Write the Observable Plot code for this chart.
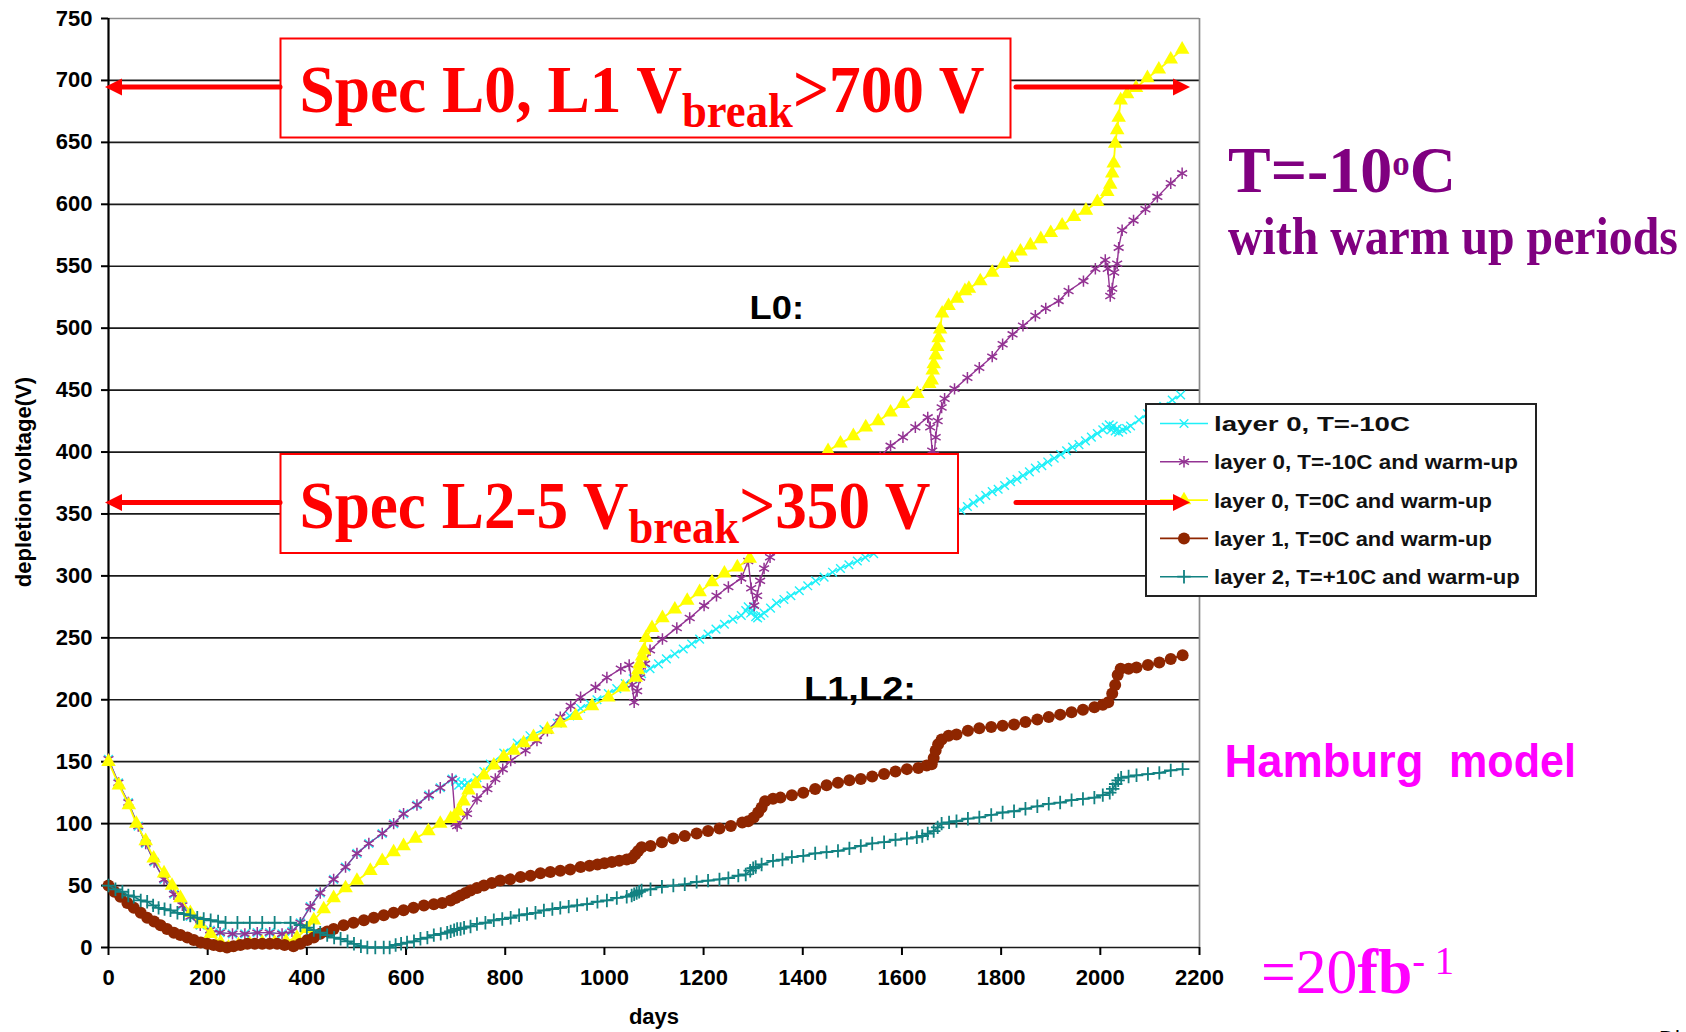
<!DOCTYPE html>
<html><head><meta charset="utf-8">
<script src="https://cdn.jsdelivr.net/npm/d3@7"></script>
<script src="https://cdn.jsdelivr.net/npm/@observablehq/plot@0.6"></script>
<style>
html,body{margin:0;padding:0;background:#fff;}
#chart{width:1686px;height:1032px;overflow:hidden;position:relative;background:#fff;}
</style>
</head><body><div id="chart"></div>
<script>
// ---------- tick values ----------
const xTicks = [0,200,400,600,800,1000,1200,1400,1600,1800,2000,2200];
const yTicks = [0,50,100,150,200,250,300,350,400,450,500,550,600,650,700,750];

// ---------- legend labels ----------
const legendLabels = [
  "layer 0, T=-10C",
  "layer 0, T=-10C and warm-up",
  "layer 0, T=0C and warm-up",
  "layer 1, T=0C and warm-up",
  "layer 2, T=+10C and warm-up"
];

// ---------- series: [days, depletion voltage (V)] ----------
const layer0_m10 = [[0,152],[20,133],[40,117],[60,98],[75,84],[92,69],[112,55],[132,43],[149,34],[165,25],[185,18],[205,14],[225,12],[250,11],[275,11],[300,12],[325,12],[350,11],[370,13],[387,20],[407,33],[427,44],[454,55],[478,65],[501,76],[525,84],[552,92],[575,100],[595,108],[622,115],[646,123],[669,129],[693,136],
 [700,134],[706,131],[712,133],[718,131],[724,133],[743,137],[757,142],[770,148],[797,157],[824,165],[850,171],[878,176],[905,181],[930,187],[952,193],[970,197],[985,200],[1008,205],[1025,209],[1042,213],[1058,217],[1075,221],[1092,225],[1109,229],[1125,233],[1142,237],[1159,241],[1176,245],[1192,249],[1209,253],[1225,257],[1242,261],[1259,265],[1276,268],[1285,272],[1290,275],[1295,270],[1300,272],[1305,267],[1309,266],[1315,268],[1322,270],[1335,274],[1347,278],[1362,281],[1376,284],[1393,288],[1410,292],[1426,296],[1443,299],[1460,303],[1476,306],[1493,309],[1510,312],[1526,315],[1543,318],[1560,322],[1580,326],[1600,330],[1620,334],[1640,338],[1655,341],[1660,344],[1665,340],[1670,343],[1690,347],[1705,350],[1719,353],[1732,356],[1744,359],[1757,362],[1769,365],[1782,368],[1794,370],[1807,373],[1819,376],[1832,378],[1844,381],[1857,384],[1869,387],[1882,389],[1894,392],[1907,395],[1920,398],[1932,401],[1944,404],[1957,406],[1970,409],[1982,412],[1994,415],[2005,418],[2012,420],[2018,422],[2022,418],[2026,421],[2030,417],[2034,419],[2037,416],[2045,418],[2053,419],[2061,421],[2078,426],[2095,431],[2112,434],[2128,437],[2145,442],[2162,446]];

const layer0_m10_warm = [[0,152],[20,133],[40,117],[60,98],[75,84],[92,69],[112,55],[132,43],[149,34],[165,25],[185,18],[205,14],[225,12],[250,11],[275,11],[300,12],[325,12],[350,11],[370,13],[387,20],[407,33],[427,44],[454,55],[478,65],[501,76],[525,84],[552,92],[575,100],[595,108],[622,115],[646,123],[669,129],[693,136],
 [700,100],[703,98],[723,108],[743,120],[764,128],[780,136],[795,144],[811,151],[841,159],[864,167],[885,175],[911,186],[932,195],[952,202],[982,210],[1005,218],[1033,225],[1050,228],[1056,212],[1060,198],[1066,207],[1072,218],[1082,229],[1092,240],[1117,249],[1146,258],[1172,266],[1201,276],[1226,284],[1250,291],[1276,298],[1290,312],[1296,290],[1302,276],[1308,284],[1314,296],[1322,306],[1334,315],[1360,325],[1385,333],[1410,342],[1435,350],[1460,360],[1485,369],[1510,378],[1535,387],[1556,396],[1577,405],[1602,412],[1627,420],[1652,428],[1657,420],[1661,401],[1665,398],[1668,412],[1672,425],[1680,436],[1686,443],[1706,451],[1732,460],[1756,468],[1782,477],[1803,487],[1823,495],[1844,502],[1869,510],[1890,516],[1916,522],[1936,530],[1966,538],[1990,548],[2010,555],[2015,548],[2020,526],[2024,532],[2028,545],[2034,552],[2037,565],[2044,579],[2067,587],[2091,596],[2115,606],[2142,617],[2165,625]];

const layer0_0_warm = [[0,150],[21,131],[41,115],[56,100],[75,86],[91,72],[112,60],[128,50],[145,40],[165,28],[185,19],[206,11],[226,4],[242,0],[262,2],[285,3],[310,4],[335,4],[358,5],[380,8],[400,15],[414,22],[434,31],[454,40],[478,48],[501,54],[528,62],[552,70],[575,77],[595,82],[619,88],[645,94],[669,100],[690,104],[698,106],[706,110],[716,118],[726,127],[740,132],[757,139],[777,147],[797,154],[817,159],[837,165],[857,170],[885,176],[911,181],[942,187],[975,195],[1008,202],[1038,210],[1063,218],[1068,224],[1071,229],[1076,235],[1080,240],[1084,250],[1096,258],[1117,266],[1142,273],[1167,280],[1192,287],[1217,295],[1242,302],[1268,307],[1293,314],[1300,325],[1308,338],[1330,350],[1360,363],[1390,376],[1420,389],[1451,401],[1476,407],[1502,413],[1527,420],[1552,425],[1577,432],[1602,439],[1631,447],[1655,455],[1660,458],[1662,466],[1664,471],[1668,478],[1671,485],[1674,492],[1677,499],[1681,512],[1694,518],[1711,524],[1727,530],[1735,532],[1758,538],[1782,545],[1805,552],[1822,557],[1839,562],[1859,567],[1880,572],[1900,577],[1923,583],[1947,590],[1971,595],[1994,602],[2014,610],[2020,616],[2024,625],[2027,633],[2030,649],[2034,660],[2037,670],[2041,684],[2054,689],[2072,694],[2095,702],[2118,709],[2142,717],[2165,725]];

const layer1_0_warm = [[0,50],[12,45],[24,41],[38,36],[51,32],[65,28],[78,24],[92,21],[105,18],[118,15],[132,12],[145,10],[159,8],[172,6],[186,4],[199,3],[212,2],[225,1],[239,0],[252,1],[266,2],[280,3],[295,3],[310,3],[325,3],[340,3],[355,2],[373,1],[387,3],[401,6],[414,8],[427,11],[441,13],[454,15],[474,18],[494,20],[515,22],[535,24],[555,26],[575,28],[595,30],[615,32],[636,34],[656,35],[673,36],[690,38],[700,40],[710,42],[720,44],[730,46],[743,48],[757,50],[773,52],[790,54],[810,55],[831,57],[851,58],[871,60],[891,61],[911,62],[931,63],[952,65],[970,66],[986,67],[1000,68],[1015,69],[1030,70],[1045,71],[1055,72],[1062,75],[1068,78],[1075,81],[1093,82],[1116,85],[1139,88],[1162,90],[1186,92],[1209,94],[1232,96],[1255,98],[1278,101],[1290,102],[1301,105],[1310,109],[1317,113],[1324,118],[1340,120],[1355,121],[1378,123],[1401,125],[1425,128],[1448,131],[1471,133],[1494,135],[1517,136],[1540,138],[1564,140],[1587,142],[1610,144],[1633,145],[1650,147],[1660,148],[1664,153],[1668,159],[1673,164],[1680,168],[1694,171],[1710,172],[1733,175],[1756,177],[1780,178],[1803,179],[1826,180],[1849,182],[1873,184],[1896,186],[1919,188],[1942,190],[1965,192],[1988,194],[2005,196],[2016,198],[2024,205],[2030,212],[2035,220],[2041,225],[2057,225],[2073,226],[2096,228],[2119,230],[2142,233],[2166,236]];

const layer2_p10_warm = [[0,50],[14,47],[28,45],[40,42],[51,41],[65,38],[78,37],[90,34],[101,32],[113,31],[125,30],[139,28],[152,27],[165,26],[179,24],[192,23],[206,22],[221,21],[236,20],[260,20],[285,20],[310,20],[335,20],[367,20],[387,18],[400,16],[414,14],[427,12],[441,10],[455,8],[468,7],[482,5],[495,3],[509,1],[522,0],[538,0],[555,0],[567,0],[579,2],[590,3],[602,4],[616,5],[629,7],[643,8],[656,10],[670,11],[683,12],[690,13],[697,14],[703,15],[710,15],[717,16],[730,17],[743,19],[760,20],[777,22],[794,23],[811,24],[828,26],[844,27],[861,28],[878,30],[895,31],[911,32],[928,33],[945,34],[965,35],[986,37],[1005,38],[1025,40],[1045,41],[1055,42],[1060,43],[1065,44],[1070,45],[1075,46],[1093,47],[1116,49],[1139,50],[1162,51],[1186,53],[1209,54],[1232,55],[1250,56],[1270,58],[1285,59],[1294,62],[1300,64],[1305,65],[1317,67],[1340,70],[1359,71],[1378,73],[1401,74],[1425,76],[1448,77],[1471,78],[1494,80],[1517,82],[1540,84],[1564,85],[1587,87],[1610,88],[1630,89],[1641,90],[1652,92],[1664,94],[1672,97],[1680,100],[1695,101],[1710,102],[1733,104],[1756,105],[1780,107],[1803,109],[1826,110],[1849,112],[1873,114],[1896,116],[1919,117],[1942,119],[1965,120],[1988,121],[2005,123],[2019,125],[2025,128],[2031,132],[2036,135],[2042,137],[2057,138],[2073,139],[2096,140],[2119,141],[2142,143],[2166,144]];

// ---------- styles ----------
const series = [
  {label: legendLabels[0], data: layer0_m10,       color: "#1ff0f8", symbol: "times",    d3sym: d3.symbolTimes,    r: 4.0, lw: 1.4, fill: "none",    stroke: "#1ff0f8", msw: 1.4},
  {label: legendLabels[1], data: layer0_m10_warm,  color: "#933393", symbol: "asterisk", d3sym: d3.symbolAsterisk, r: 5.4, lw: 1.4, fill: "none",    stroke: "#933393", msw: 1.5},
  {label: legendLabels[2], data: layer0_0_warm,    color: "#ffff00", symbol: "triangle", d3sym: d3.symbolTriangle, r: 5.4, lw: 1.8, fill: "#ffff00", stroke: "none",    msw: 0},
  {label: legendLabels[3], data: layer1_0_warm,    color: "#8f2600", symbol: "circle",   d3sym: d3.symbolCircle,   r: 6.0, lw: 2.0, fill: "#8f2600", stroke: "none",    msw: 0},
  {label: legendLabels[4], data: layer2_p10_warm,  color: "#128282", symbol: "plus",     d3sym: d3.symbolPlus,     r: 4.4, lw: 1.6, fill: "none",    stroke: "#128282", msw: 1.8}
];

const chart = Plot.plot({
  width: 1686, height: 1032,
  marginLeft: 108, marginRight: 487, marginTop: 18, marginBottom: 85,
  style: {fontFamily: "'Liberation Sans', Arial, sans-serif", fontSize: "22px", fontWeight: "bold", background: "white", color: "black"},
  x: {domain: [0, 2200], label: null},
  y: {domain: [0, 750], label: null},
  marks: [
    Plot.ruleY(yTicks.filter(d => d < 750), {stroke: "#1a1a1a", strokeWidth: 1.7}),
    Plot.ruleY([750], {stroke: "#8c8c8c", strokeWidth: 1.7}),
    Plot.ruleX([2200], {stroke: "#8c8c8c", strokeWidth: 1.7}),
    Plot.axisY(yTicks, {tickSize: 7, tickPadding: 9, strokeWidth: 2, label: null, tickFormat: d => String(d)}),
    Plot.axisX(xTicks, {tickSize: 8, tickPadding: 14, strokeWidth: 2, label: null, tickFormat: d => String(d)}),
    Plot.ruleX([0], {stroke: "black", strokeWidth: 2.2}),
    ...series.flatMap(s => [
      Plot.line(s.data, {x: d => d[0], y: d => d[1], stroke: s.color, strokeWidth: s.lw}),
      Plot.dot(s.data, {x: d => d[0], y: d => d[1], symbol: s.symbol, r: s.r, fill: s.fill, stroke: s.stroke, strokeWidth: s.msw})
    ])
  ]
});
document.getElementById("chart").append(chart);
const svg = d3.select(chart);

const SERIF = "'Liberation Serif', 'Times New Roman', serif";
const SANS = "'Liberation Sans', Arial, sans-serif";

// axis titles
svg.append("text").attr("x", 654).attr("y", 1024).attr("text-anchor", "middle")
  .attr("font-family", SANS).attr("font-size", 22).attr("font-weight", "bold").text("days");
svg.append("text").attr("transform", "translate(31,482) rotate(-90)").attr("text-anchor", "middle")
  .attr("font-family", SANS).attr("font-size", 22).attr("font-weight", "bold").text("depletion voltage(V)");

// fit helper: draws start-anchored text at origin, then scales horizontally to a target width
function fitted(parent, x, y, w, build) {
  const t = parent.append("text").attr("x", 0).attr("y", 0).attr("text-anchor", "start");
  build(t);
  const nat = t.node().getComputedTextLength();
  const s = w / nat;
  t.attr("transform", `translate(${x},${y}) scale(${s},1)`);
  return t;
}

// legend
const lg = svg.append("g");
lg.append("rect").attr("x", 1146).attr("y", 404).attr("width", 390).attr("height", 192)
  .attr("fill", "white").attr("stroke", "#222").attr("stroke-width", 2);
series.forEach((s, i) => {
  const y = 423.5 + i * 38.3;
  lg.append("line").attr("x1", 1160).attr("x2", 1208).attr("y1", y).attr("y2", y)
    .attr("stroke", s.color).attr("stroke-width", 1.6);
  lg.append("path").attr("d", d3.symbol(s.d3sym, Math.PI * s.r * s.r)())
    .attr("transform", `translate(1184,${y})`)
    .attr("fill", s.fill).attr("stroke", s.stroke).attr("stroke-width", s.msw);
  fitted(lg, 1214, y + 7.5, [196, 304, 278, 278, 306][i], t =>
    t.attr("font-family", SANS).attr("font-size", 21).attr("font-weight", "bold").attr("fill", "#111").text(s.label));
});

// spec boxes
function specBox(top, left, w, h, pre, post, textW) {
  const g = svg.append("g");
  g.append("rect").attr("x", left).attr("y", top).attr("width", w).attr("height", h)
    .attr("fill", "white").attr("stroke", "#ff0000").attr("stroke-width", 2);
  fitted(g, left + 19, top + 73.5, textW, t => {
    t.attr("font-family", SERIF).attr("font-weight", "bold").attr("fill", "#ff0000").attr("font-size", 68);
    t.append("tspan").text(pre);
    t.append("tspan").attr("font-size", 48).attr("dy", 15).text("break");
    t.append("tspan").attr("dy", -15).text(post);
  });
}
specBox(38.5, 280.5, 730, 99, "Spec L0, L1 V", ">700 V", 685);
specBox(454, 280.5, 677.5, 99, "Spec L2-5 V", ">350 V", 631);

// arrows
function arrow(x1, x2, y) {
  const dir = Math.sign(x2 - x1);
  svg.append("line").attr("x1", x1).attr("x2", x2 - dir * 14).attr("y1", y).attr("y2", y)
    .attr("stroke", "#ff0000").attr("stroke-width", 5).attr("stroke-linecap", "round");
  svg.append("path").attr("d", `M${x2},${y} L${x2 - dir * 17},${y - 8.5} L${x2 - dir * 17},${y + 8.5} Z`)
    .attr("fill", "#ff0000");
}
arrow(280, 105, 87);
arrow(1016, 1190, 87);
arrow(280, 105, 502.5);
arrow(1016, 1190, 502.5);

// in-plot labels
fitted(svg, 749.5, 319, 54.5, t => t.attr("font-family", SANS).attr("font-size", 33).attr("font-weight", "bold").text("L0:"));
fitted(svg, 804, 700, 112, t => t.attr("font-family", SANS).attr("font-size", 33).attr("font-weight", "bold").text("L1,L2:"));

// right side annotations
fitted(svg, 1228, 192, 228, t => {
  t.attr("font-family", SERIF).attr("font-weight", "bold").attr("fill", "#800080").attr("font-size", 66);
  t.append("tspan").text("T=-10");
  t.append("tspan").attr("font-size", 36).attr("dy", -17).text("o");
  t.append("tspan").attr("dy", 17).text("C");
});
fitted(svg, 1228, 254, 450, t => t.attr("font-family", SERIF).attr("font-weight", "bold").attr("fill", "#800080")
  .attr("font-size", 52).text("with warm up periods"));
fitted(svg, 1224.5, 776.5, 199, t => t.attr("font-family", SANS).attr("font-weight", "bold").attr("fill", "#ff00ff")
  .attr("font-size", 46).text("Hamburg"));
fitted(svg, 1449, 776.5, 127, t => t.attr("font-family", SANS).attr("font-weight", "bold").attr("fill", "#ff00ff")
  .attr("font-size", 46).text("model"));
fitted(svg, 1261, 993, 193, t => {
  t.attr("font-family", SERIF).attr("fill", "#ff00ff").attr("font-size", 64).attr("font-weight", "normal");
  t.append("tspan").text("=20");
  t.append("tspan").attr("font-weight", "bold").text("fb");
  t.append("tspan").attr("font-size", 40).attr("dy", -19).text("- 1");
});
svg.append("text").attr("x", 1659).attr("y", 1046).attr("text-anchor", "start").attr("font-weight", "normal")
  .attr("font-family", SANS).attr("font-size", 22).text("Di");
</script>
</body></html>
